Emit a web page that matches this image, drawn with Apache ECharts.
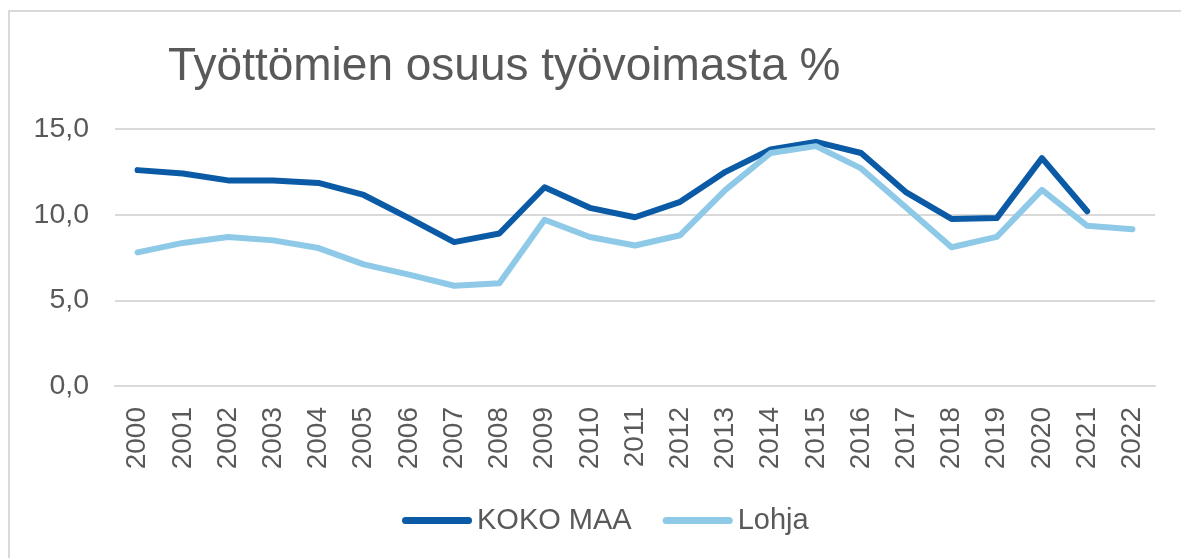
<!DOCTYPE html>
<html>
<head>
<meta charset="utf-8">
<script src="https://cdn.jsdelivr.net/npm/echarts@6/dist/echarts.min.js"></script>
<style>
html,body{margin:0;padding:0;background:#fff;}
#c{width:1181px;height:558px;}
</style>
</head>
<body>
<div id="c"></div>
<script>
const titleText = 'Työttömien osuus työvoimasta %';
const years = ['2000','2001','2002','2003','2004','2005','2006','2007','2008','2009','2010','2011','2012','2013','2014','2015','2016','2017','2018','2019','2020','2021','2022'];
const kokoMaa = [12.6,12.4,12.0,12.0,11.85,11.15,9.8,8.4,8.9,11.6,10.4,9.85,10.75,12.5,13.8,14.25,13.6,11.3,9.75,9.8,13.3,10.2,null];
const lohja = [7.8,8.35,8.7,8.5,8.05,7.1,6.5,5.85,6.0,9.7,8.7,8.2,8.8,11.45,13.6,14.0,12.7,10.4,8.1,8.7,11.45,9.35,9.15];
const seriesNames = ['KOKO MAA','Lohja'];
const colors = ['#0b5aa5','#8ecae8'];

const chart = echarts.init(document.getElementById('c'), null, {renderer:'canvas'});
const font = 'Liberation Sans, Arial, sans-serif';
const stadium = 'path://M3.5,0 L66.5,0 A3.5,3.5 0 0 1 66.5,7 L3.5,7 A3.5,3.5 0 0 1 3.5,0 Z';
chart.setOption({
  animation:false,
  backgroundColor:'#fff',
  textStyle:{fontFamily:font},
  title:{text:titleText,left:163,top:39,
    textStyle:{fontFamily:font,fontSize:46,fontWeight:'normal',color:'#595959'}},
  graphic:[{type:'rect',shape:{x:9,y:11,width:1200,height:600},
    style:{fill:'none',stroke:'#d9d9d9',lineWidth:2},silent:true}],
  legend:{left:397,top:501,itemWidth:70,itemHeight:7,itemGap:31,
    textStyle:{fontFamily:font,fontSize:29,color:'#595959'},
    data:seriesNames.map(n=>({name:n,icon:stadium}))},
  grid:{left:115,right:26,top:129,bottom:172,containLabel:false},
  xAxis:{type:'category',data:years,boundaryGap:true,
    axisLine:{show:true,lineStyle:{color:'#d9d9d9',width:2}},
    axisTick:{show:false},
    axisLabel:{rotate:90,margin:21,fontSize:28,color:'#595959',fontFamily:font,interval:0}},
  yAxis:{type:'value',min:0,max:15,interval:5,
    axisLine:{show:false},axisTick:{show:false},
    splitLine:{lineStyle:{color:'#d9d9d9',width:2}},
    axisLabel:{margin:26,fontSize:28.5,color:'#595959',fontFamily:font,
      formatter:v=>v.toFixed(1).replace('.',',')}},
  series:[
    {name:seriesNames[0],type:'line',data:kokoMaa,symbol:'none',connectNulls:false,
      lineStyle:{color:colors[0],width:6,cap:'round',join:'round'},itemStyle:{color:colors[0]}},
    {name:seriesNames[1],type:'line',data:lohja,symbol:'none',
      lineStyle:{color:colors[1],width:6,cap:'round',join:'round'},itemStyle:{color:colors[1]}}
  ]
});
</script>
</body>
</html>
